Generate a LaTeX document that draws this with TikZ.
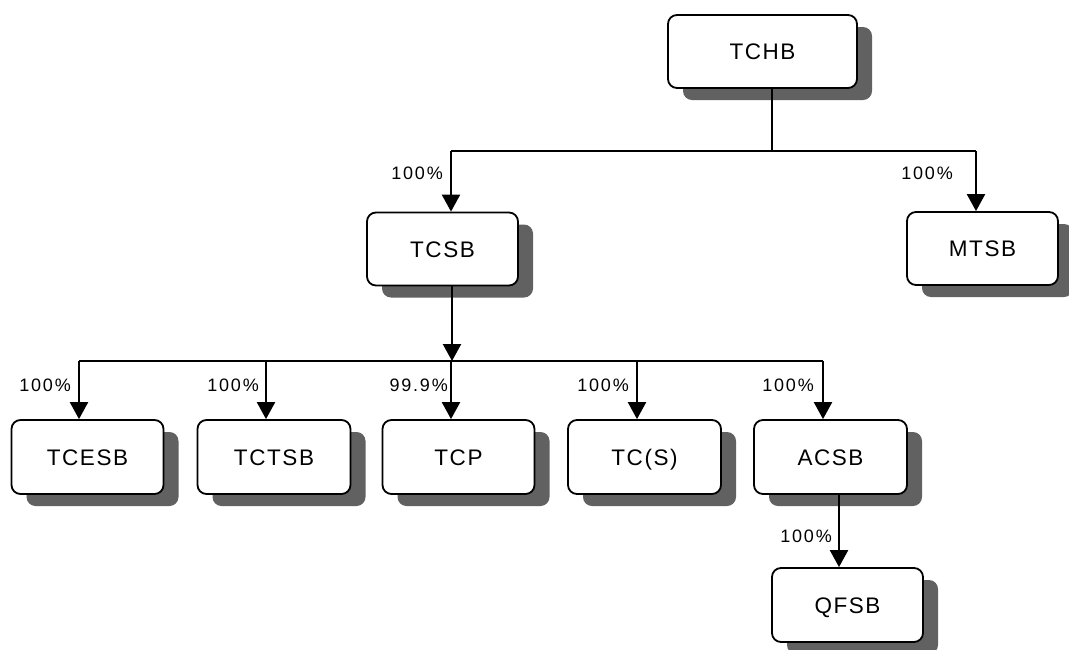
\documentclass[tikz,border=0pt]{standalone}
\usepackage{fontspec}
\setmainfont{Liberation Sans}
\usetikzlibrary{arrows.meta,shadows}
\begin{document}
\begin{tikzpicture}[x=1pt,y=-1pt,
  box/.style={draw, line width=1.8pt, rounded corners=9pt, fill=white,
    minimum width=151pt, minimum height=73pt, inner sep=0pt,
    text height=16pt, text depth=0pt,
    font=\fontsize{22.5}{22.5}\selectfont\addfontfeature{LetterSpace=7},
    drop shadow={shadow xshift=15pt, shadow yshift=-12pt, fill=black!62, opacity=1}},
  conn/.style={line width=2.2pt},
  arr/.style={conn, -{Triangle[width=18pt,length=17pt]}},
  pct/.style={font=\fontsize{18}{18}\selectfont\addfontfeature{LetterSpace=10}, inner sep=0pt, anchor=east}]
\useasboundingbox (0,0) rectangle (1069,649);

% nodes
\node[box, minimum width=189pt] (tchb) at (762.5,51.5) {TCHB};
\node[box] (tcsb) at (442.5,249) {TCSB};
\node[box] (mtsb) at (982.5,248.5) {MTSB};
\node[box, minimum width=152pt, minimum height=74pt] (tcesb) at (87.5,457) {TCESB};
\node[box, minimum width=153pt, minimum height=74pt] (tctsb) at (274,457) {TCTSB};
\node[box, minimum width=152pt, minimum height=74pt] (tcp) at (458.5,457) {TCP};
\node[box, minimum width=153pt, minimum height=74pt] (tcs) at (644.5,457) {TC(S)};
\node[box, minimum width=153pt, minimum height=74pt] (acsb) at (830.5,457) {ACSB};
\node[box, minimum width=151pt, minimum height=74pt] (qfsb) at (847.5,605) {QFSB};

% coordinates
\coordinate (s1) at (772,151);
\coordinate (b1l) at (451,151);
\coordinate (b1r) at (976,151);
\coordinate (s2) at (452,361);
\coordinate (c1) at (79,361);
\coordinate (c2) at (266,361);
\coordinate (c3) at (451,361);
\coordinate (c4) at (637,361);
\coordinate (c5) at (823,361);
\coordinate (q) at (839,540);

% connectors
\draw[conn] (tchb.south -| s1) -- (s1);
\draw[conn] (b1l) -- (b1r);
\draw[arr] (b1l) -- (tcsb.north -| b1l);
\draw[arr] (b1r) -- (mtsb.north -| b1r);
\draw[arr] (tcsb.south -| s2) -- (s2);
\draw[conn] (c1) -- (c5);
\draw[arr] (c1) -- (tcesb.north -| c1);
\draw[arr] (c2) -- (tctsb.north -| c2);
\draw[arr] (c3) -- (tcp.north -| c3);
\draw[arr] (c4) -- (tcs.north -| c4);
\draw[arr] (c5) -- (acsb.north -| c5);
\draw[arr] (acsb.south -| q) -- (qfsb.north -| q);

% labels
\node[pct] (l1) at (443,173) {100\%};
\node[pct] (l2) at (953,173) {100\%};
\node[pct] (l3) at (71,385) {100\%};
\node[pct] (l4) at (259,385) {100\%};
\node[pct] (l5) at (448,385) {99.9\%};
\node[pct] (l6) at (629,385) {100\%};
\node[pct] (l7) at (814,385) {100\%};
\node[pct] (l8) at (832,536) {100\%};
\end{tikzpicture}
\end{document}
